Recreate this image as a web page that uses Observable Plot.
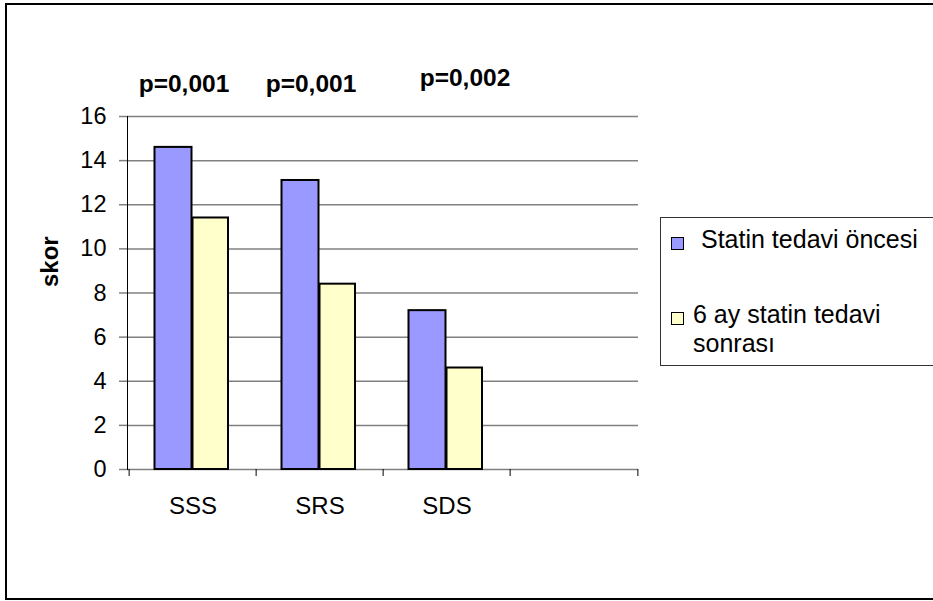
<!DOCTYPE html>
<html>
<head>
<meta charset="utf-8">
<script src="https://cdn.jsdelivr.net/npm/d3@7"></script>
<script src="https://cdn.jsdelivr.net/npm/@observablehq/plot@0.6"></script>
<style>
  html, body { margin: 0; padding: 0; background: #fff; overflow: hidden; width: 933px; height: 601px; }
  #wrap { position: relative; width: 933px; height: 601px; font-family: "Liberation Sans", Arial, sans-serif; }
  #chart { position: absolute; left: 0; top: 0; }
  #border { position: absolute; left: 5px; top: 3px; width: 940px; height: 593px; border: 2px solid #000; pointer-events: none; }
  #legend { position: absolute; left: 660px; top: 217px; width: 290px; height: 147px; border: 1px solid #333; background: #fff; }
  .sw { position: absolute; width: 11px; height: 11px; border: 1.5px solid #000; }
  .lt { position: absolute; font-size: 25px; color: #000; white-space: nowrap; }
</style>
</head>
<body>
<div id="wrap">
  <div id="chart"></div>
  <div id="legend"></div>
  <div id="border"></div>
</div>
<script>
const categories = ["SSS", "SRS", "SDS"];
const emptySlot = "";
const seriesNames = ["Statin tedavi öncesi", "6 ay statin tedavi sonrası"];
const seriesColors = ["#9999ff", "#ffffcc"];
const before = [14.6, 13.1, 7.2];
const after = [11.4, 8.4, 4.6];
const pValues = ["p=0,001", "p=0,001", "p=0,002"];
const yTicks = [0, 2, 4, 6, 8, 10, 12, 14, 16];
const yLabel = "skor";

const W = 933, H = 601;
const mL = 127, mR = 295, mT = 116, mB = 132;
const bw = (W - mL - mR) / 4;

const rowsBefore = categories.map((c, i) => ({cat: c, v: before[i]}));
const rowsAfter = categories.map((c, i) => ({cat: c, v: after[i]}));
const pRows = categories.map((c, i) => ({cat: c, p: pValues[i]}));

const font = "Liberation Sans, Arial, sans-serif";

const plot = Plot.plot({
  width: W,
  height: H,
  marginLeft: mL,
  marginRight: mR,
  marginTop: mT,
  marginBottom: mB,
  style: {fontFamily: font, background: "transparent", color: "#000", overflow: "visible"},
  x: {domain: [...categories, emptySlot], padding: 0, axis: null},
  y: {domain: [0, 16], axis: null},
  marks: [
    Plot.gridY(yTicks, {stroke: "#808080", strokeOpacity: 1, strokeWidth: 1.5}),
    Plot.barY(rowsBefore, {x: "cat", y: "v", fill: seriesColors[0], stroke: "#000", strokeWidth: 2, insetLeft: 25.5, insetRight: 64.5}),
    Plot.barY(rowsAfter, {x: "cat", y: "v", fill: seriesColors[1], stroke: "#000", strokeWidth: 2, insetLeft: 63.5, insetRight: 28}),
    Plot.axisY({ticks: yTicks, tickSize: 8, tickPadding: 13, fontSize: 23.5, stroke: "#808080", strokeWidth: 1.5, label: null, tickFormat: d => String(d)}),
    Plot.axisX({tickSize: 7, dx: -bw / 2, tickFormat: () => "", stroke: "#000", label: null}),
    Plot.axisX({ticks: [emptySlot], tickSize: 7, dx: bw / 2, tickFormat: () => "", stroke: "#000", label: null}),
    Plot.axisX({ticks: categories, tickSize: 0, tickPadding: 27, fontSize: 24, label: null}),
    Plot.frame({anchor: "left", stroke: "#000", strokeWidth: 1}),
    Plot.text(pRows.slice(0, 2), {x: "cat", text: "p", frameAnchor: "top", dx: -9, dy: -42, fontSize: 24.5, fontWeight: "bold"}),
    Plot.text(pRows.slice(2), {x: "cat", text: "p", frameAnchor: "top", dx: 18, dy: -47.5, fontSize: 24.5, fontWeight: "bold"}),
    Plot.text([yLabel], {text: d => d, frameAnchor: "left", dx: -77, dy: -6, rotate: -90, fontSize: 24, fontWeight: "bold"})
  ]
});
document.getElementById("chart").appendChild(plot);

// legend
const legend = document.getElementById("legend");
const legendItems = [
  {sw: [10, 19], text: [seriesNames[0]], tx: 40, ty: 9, lh: 24},
  {sw: [10, 94], text: ["6 ay statin tedavi", "sonrası"], tx: 32, ty: 82, lh: 29}
];
legendItems.forEach((it, i) => {
  const s = document.createElement("div");
  s.className = "sw";
  s.style.left = it.sw[0] + "px";
  s.style.top = it.sw[1] + "px";
  s.style.background = seriesColors[i];
  legend.appendChild(s);
  const t = document.createElement("div");
  t.className = "lt";
  t.style.left = it.tx + "px";
  t.style.top = it.ty + "px";
  t.style.lineHeight = it.lh + "px";
  t.innerHTML = it.text.join("<br>");
  legend.appendChild(t);
});
</script>
</body>
</html>
